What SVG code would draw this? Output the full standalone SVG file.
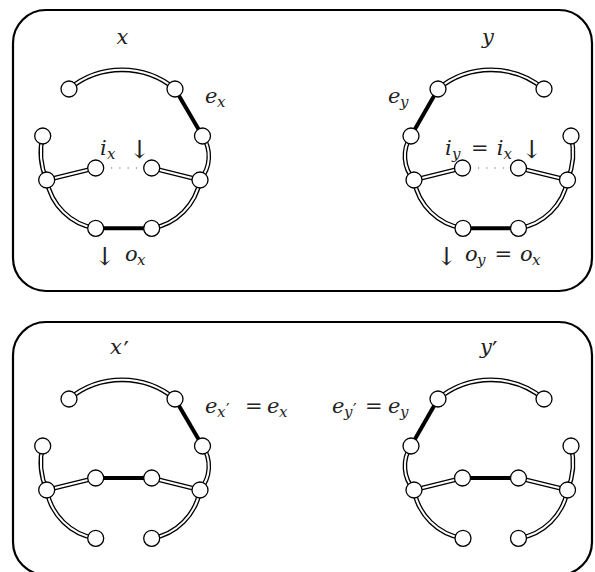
<svg xmlns="http://www.w3.org/2000/svg" width="595" height="572" viewBox="0 0 595 572">
  <style>
    .frame { fill: none; stroke: #000; stroke-width: 2.2; }
    .dbo { fill: none; stroke: #000; stroke-width: 4.6; }
    .dbi { fill: none; stroke: #fff; stroke-width: 2; }
    .thick { fill: none; stroke: #000; stroke-width: 4; }
    .dots { fill: none; stroke: #666; stroke-width: 1.2; stroke-dasharray: 1.2 7.1; }
    .node circle { fill: #fff; stroke: #000; stroke-width: 1.3; }
    text { font-family: 'DejaVu Serif', 'Liberation Serif', serif; }
    .m { font-style: italic; font-size: 21px; fill: #222; }
    .s { font-size: 15px; }
    .r { font-style: normal; }
    .p { font-style: normal; font-size: 24px; }
    .ps { font-style: normal; font-size: 16px; }
    .arr { font-style: normal; font-size: 25px; fill: #222; text-anchor: middle; }
  </style>

  <!-- panel frames -->
  <rect class="frame" x="13" y="10" width="579" height="281" rx="33" ry="33"/>
  <rect class="frame" x="13" y="322" width="579" height="253" rx="33" ry="33"/>

  <!-- edges -->
  <g id="connectors">
    <!-- graph x -->
    <g id="edges-x">
      <path class="dbo" d="M69,89 A83,83 0 0 1 175,89"/>
      <path class="dbi" d="M69,89 A83,83 0 0 1 175,89"/>
      <path class="dbo" d="M202.5,136 A36,36 0 0 1 200,180"/>
      <path class="dbi" d="M202.5,136 A36,36 0 0 1 200,180"/>
      <path class="dbo" d="M200,180 A59,59 0 0 1 151.7,228.3"/>
      <path class="dbi" d="M200,180 A59,59 0 0 1 151.7,228.3"/>
      <path class="dbo" d="M46.7,180 A59,59 0 0 0 95.7,228.3"/>
      <path class="dbi" d="M46.7,180 A59,59 0 0 0 95.7,228.3"/>
      <path class="dbo" d="M42.7,136 A70,70 0 0 0 46.7,180"/>
      <path class="dbi" d="M42.7,136 A70,70 0 0 0 46.7,180"/>
      <path class="dbo" d="M46.7,180 L95.7,168"/>
      <path class="dbi" d="M46.7,180 L95.7,168"/>
      <path class="dbo" d="M151.7,168 L200,180"/>
      <path class="dbi" d="M151.7,168 L200,180"/>
      <path class="thick" d="M175,89 L202.5,136"/>
      <path class="thick" d="M95.7,228.3 L151.7,228.3"/>
      <path class="dots" d="M111,168 L144,168"/>
    </g>
    <!-- graph y -->
    <g id="edges-y">
      <path class="dbo" d="M438,89 A83,83 0 0 1 544,89"/>
      <path class="dbi" d="M438,89 A83,83 0 0 1 544,89"/>
      <path class="dbo" d="M411,136 A36,36 0 0 0 414,180"/>
      <path class="dbi" d="M411,136 A36,36 0 0 0 414,180"/>
      <path class="dbo" d="M414,180 A59,59 0 0 0 463,228.3"/>
      <path class="dbi" d="M414,180 A59,59 0 0 0 463,228.3"/>
      <path class="dbo" d="M567.5,180 A59,59 0 0 1 518.5,228.3"/>
      <path class="dbi" d="M567.5,180 A59,59 0 0 1 518.5,228.3"/>
      <path class="dbo" d="M571,136 A70,70 0 0 1 567.5,180"/>
      <path class="dbi" d="M571,136 A70,70 0 0 1 567.5,180"/>
      <path class="dbo" d="M414,180 L462.5,168"/>
      <path class="dbi" d="M414,180 L462.5,168"/>
      <path class="dbo" d="M518.5,168 L567.5,180"/>
      <path class="dbi" d="M518.5,168 L567.5,180"/>
      <path class="thick" d="M438,89 L411,136"/>
      <path class="thick" d="M463,228.3 L518.5,228.3"/>
      <path class="dots" d="M478,168 L511,168"/>
    </g>
    <!-- graph x' -->
    <g id="edges-x2">
      <path class="dbo" d="M69,399 A83,83 0 0 1 175,399"/>
      <path class="dbi" d="M69,399 A83,83 0 0 1 175,399"/>
      <path class="dbo" d="M202.5,446 A36,36 0 0 1 200,490"/>
      <path class="dbi" d="M202.5,446 A36,36 0 0 1 200,490"/>
      <path class="dbo" d="M200,490 A59,59 0 0 1 151.7,538.3"/>
      <path class="dbi" d="M200,490 A59,59 0 0 1 151.7,538.3"/>
      <path class="dbo" d="M46.7,490 A59,59 0 0 0 95.7,538.3"/>
      <path class="dbi" d="M46.7,490 A59,59 0 0 0 95.7,538.3"/>
      <path class="dbo" d="M42.7,446 A70,70 0 0 0 46.7,490"/>
      <path class="dbi" d="M42.7,446 A70,70 0 0 0 46.7,490"/>
      <path class="dbo" d="M46.7,490 L95.7,478"/>
      <path class="dbi" d="M46.7,490 L95.7,478"/>
      <path class="dbo" d="M151.7,478 L200,490"/>
      <path class="dbi" d="M151.7,478 L200,490"/>
      <path class="thick" d="M175,399 L202.5,446"/>
      <path class="thick" d="M95.7,478 L151.7,478"/>
    </g>
    <!-- graph y' -->
    <g id="edges-y2">
      <path class="dbo" d="M438,399 A83,83 0 0 1 544,399"/>
      <path class="dbi" d="M438,399 A83,83 0 0 1 544,399"/>
      <path class="dbo" d="M411,446 A36,36 0 0 0 414,490"/>
      <path class="dbi" d="M411,446 A36,36 0 0 0 414,490"/>
      <path class="dbo" d="M414,490 A59,59 0 0 0 463,538.3"/>
      <path class="dbi" d="M414,490 A59,59 0 0 0 463,538.3"/>
      <path class="dbo" d="M567.5,490 A59,59 0 0 1 518.5,538.3"/>
      <path class="dbi" d="M567.5,490 A59,59 0 0 1 518.5,538.3"/>
      <path class="dbo" d="M571,446 A70,70 0 0 1 567.5,490"/>
      <path class="dbi" d="M571,446 A70,70 0 0 1 567.5,490"/>
      <path class="dbo" d="M414,490 L462.5,478"/>
      <path class="dbi" d="M414,490 L462.5,478"/>
      <path class="dbo" d="M518.5,478 L567.5,490"/>
      <path class="dbi" d="M518.5,478 L567.5,490"/>
      <path class="thick" d="M438,399 L411,446"/>
      <path class="thick" d="M462.5,478 L518.5,478"/>
    </g>
  </g>

  <!-- nodes: graph x -->
  <g id="x-a" class="node"><circle cx="69" cy="89" r="8"/></g>
  <g id="x-b" class="node"><circle cx="175" cy="89" r="8"/></g>
  <g id="x-c" class="node"><circle cx="202.5" cy="136" r="8"/></g>
  <g id="x-d" class="node"><circle cx="42.7" cy="136" r="8"/></g>
  <g id="x-e" class="node"><circle cx="46.7" cy="180" r="8"/></g>
  <g id="x-f" class="node"><circle cx="95.7" cy="168" r="8"/></g>
  <g id="x-g" class="node"><circle cx="151.7" cy="168" r="8"/></g>
  <g id="x-h" class="node"><circle cx="200" cy="180" r="8"/></g>
  <g id="x-i" class="node"><circle cx="95.7" cy="228.3" r="8"/></g>
  <g id="x-j" class="node"><circle cx="151.7" cy="228.3" r="8"/></g>

  <!-- nodes: graph y -->
  <g id="y-a" class="node"><circle cx="544" cy="89" r="8"/></g>
  <g id="y-b" class="node"><circle cx="438" cy="89" r="8"/></g>
  <g id="y-c" class="node"><circle cx="411" cy="136" r="8"/></g>
  <g id="y-d" class="node"><circle cx="571" cy="136" r="8"/></g>
  <g id="y-e" class="node"><circle cx="567.5" cy="180" r="8"/></g>
  <g id="y-f" class="node"><circle cx="518.5" cy="168" r="8"/></g>
  <g id="y-g" class="node"><circle cx="462.5" cy="168" r="8"/></g>
  <g id="y-h" class="node"><circle cx="414" cy="180" r="8"/></g>
  <g id="y-i" class="node"><circle cx="518.5" cy="228.3" r="8"/></g>
  <g id="y-j" class="node"><circle cx="463" cy="228.3" r="8"/></g>

  <!-- nodes: graph x' -->
  <g id="x2-a" class="node"><circle cx="69" cy="399" r="8"/></g>
  <g id="x2-b" class="node"><circle cx="175" cy="399" r="8"/></g>
  <g id="x2-c" class="node"><circle cx="202.5" cy="446" r="8"/></g>
  <g id="x2-d" class="node"><circle cx="42.7" cy="446" r="8"/></g>
  <g id="x2-e" class="node"><circle cx="46.7" cy="490" r="8"/></g>
  <g id="x2-f" class="node"><circle cx="95.7" cy="478" r="8"/></g>
  <g id="x2-g" class="node"><circle cx="151.7" cy="478" r="8"/></g>
  <g id="x2-h" class="node"><circle cx="200" cy="490" r="8"/></g>
  <g id="x2-i" class="node"><circle cx="95.7" cy="538.3" r="8"/></g>
  <g id="x2-j" class="node"><circle cx="151.7" cy="538.3" r="8"/></g>

  <!-- nodes: graph y' -->
  <g id="y2-a" class="node"><circle cx="544" cy="399" r="8"/></g>
  <g id="y2-b" class="node"><circle cx="438" cy="399" r="8"/></g>
  <g id="y2-c" class="node"><circle cx="411" cy="446" r="8"/></g>
  <g id="y2-d" class="node"><circle cx="571" cy="446" r="8"/></g>
  <g id="y2-e" class="node"><circle cx="567.5" cy="490" r="8"/></g>
  <g id="y2-f" class="node"><circle cx="518.5" cy="478" r="8"/></g>
  <g id="y2-g" class="node"><circle cx="462.5" cy="478" r="8"/></g>
  <g id="y2-h" class="node"><circle cx="414" cy="490" r="8"/></g>
  <g id="y2-i" class="node"><circle cx="518.5" cy="538.3" r="8"/></g>
  <g id="y2-j" class="node"><circle cx="463" cy="538.3" r="8"/></g>

  <!-- labels -->
  <g id="labels">
    <text class="m" x="122.5" y="43.5" text-anchor="middle">x</text>
    <text class="m" x="205" y="103">e<tspan class="s" x="217" y="107">x</tspan></text>
    <text class="m" x="100" y="155">i<tspan class="s" x="107" y="158.5">x</tspan></text>
    <text class="arr" x="139.7" y="158">↓</text>
    <text class="arr" x="105" y="265">↓</text>
    <text class="m" x="125" y="261">o<tspan class="s" x="137" y="264.5">x</tspan></text>

    <text class="m" x="488" y="43.5" text-anchor="middle">y</text>
    <text class="m" x="388" y="103">e<tspan class="s" x="400" y="107">y</tspan></text>
    <text class="m" x="445" y="155">i<tspan class="s" x="452" y="158.5">y</tspan><tspan class="r" x="471" y="155">=</tspan><tspan x="496.7" y="155">i</tspan><tspan class="s" x="503.5" y="158.5">x</tspan></text>
    <text class="arr" x="532" y="158">↓</text>
    <text class="arr" x="446.7" y="265">↓</text>
    <text class="m" x="465" y="261">o<tspan class="s" x="477" y="264.5">y</tspan><tspan class="r" x="494.5" y="261">=</tspan><tspan x="520" y="261">o</tspan><tspan class="s" x="532" y="264.5">x</tspan></text>

    <text class="m" x="110" y="353.5">x<tspan class="p" x="123.5" y="359">′</tspan></text>
    <text class="m" x="205" y="413">e<tspan class="s" x="217" y="417">x</tspan><tspan class="ps" x="226" y="415">′</tspan><tspan class="r" x="245" y="413">=</tspan><tspan x="267" y="413">e</tspan><tspan class="s" x="279" y="417">x</tspan></text>

    <text class="m" x="480" y="353.5">y<tspan class="p" x="492" y="359">′</tspan></text>
    <text class="m" x="332" y="413">e<tspan class="s" x="344" y="417">y</tspan><tspan class="ps" x="353" y="415">′</tspan><tspan class="r" x="365" y="413">=</tspan><tspan x="388" y="413">e</tspan><tspan class="s" x="400" y="417">y</tspan></text>
  </g>
</svg>
